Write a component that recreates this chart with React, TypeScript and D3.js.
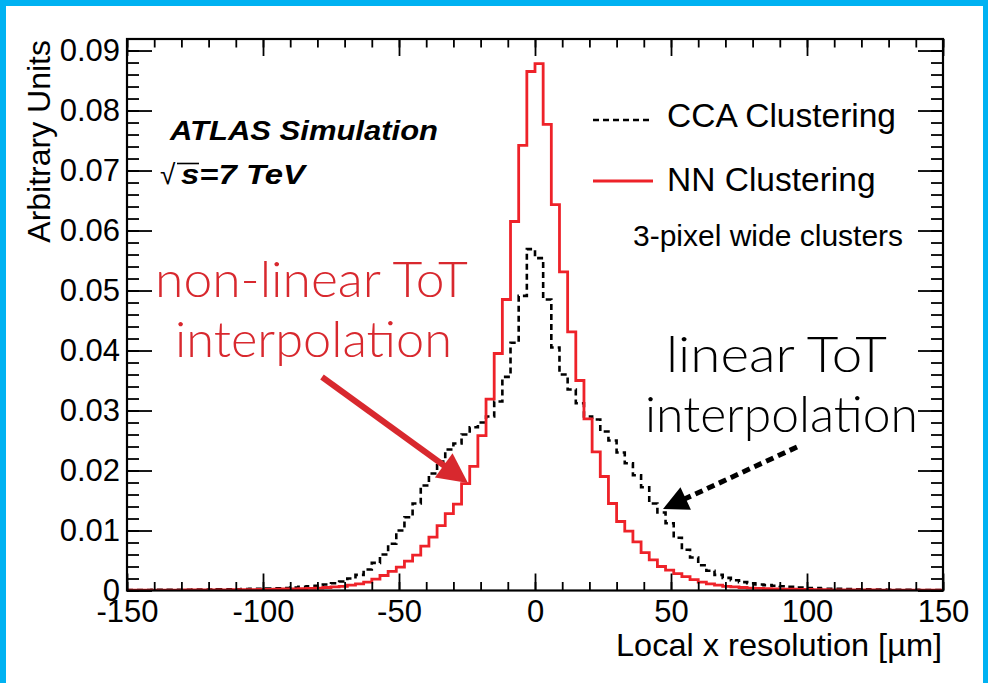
import React, { useRef, useEffect } from "react";
import * as d3 from "d3";

const W = 988;
const H = 683;

// histogram binning: 100 bins of 3 um from -150 to 150
const xMin = -150;
const xMax = 150;
const binWidth = 3;

// NN clustering (red, solid)
const nnValues = [
  0.00005, 0.00005, 0.00005, 0.00006, 0.00006, 0.00007, 0.00007, 0.00008, 0.00009, 0.0001,
  0.0001, 0.00011, 0.00012, 0.00013, 0.00014, 0.00016, 0.00018, 0.0002, 0.00022, 0.00025,
  0.00027, 0.0003, 0.00035, 0.0004, 0.0005, 0.0006, 0.0007, 0.0009, 0.0011, 0.0014,
  0.0019, 0.0025, 0.0032, 0.0039, 0.0049, 0.0059, 0.0074, 0.0089, 0.0108, 0.0128,
  0.0144, 0.0178, 0.0207, 0.0258, 0.0319, 0.0395, 0.0485, 0.0615, 0.0742, 0.0865,
  0.0878, 0.0777, 0.0643, 0.0531, 0.0431, 0.035, 0.0286, 0.0231, 0.019, 0.0145,
  0.0115, 0.0099, 0.0081, 0.0063, 0.0051, 0.004, 0.0034, 0.0028, 0.0023, 0.0018,
  0.0014, 0.0011, 0.0009, 0.0007, 0.0006, 0.0005, 0.0004, 0.00035, 0.0003, 0.00027,
  0.00024, 0.00021, 0.00019, 0.00017, 0.00015, 0.00013, 0.00012, 0.00011, 0.0001, 0.00009,
  0.00008, 0.00008, 0.00007, 0.00007, 0.00006, 0.00006, 0.00005, 0.00005, 0.00005, 0.00004,
];

// CCA clustering (black, dashed)
const ccaValues = [
  0.00008, 0.00008, 0.00009, 0.0001, 0.0001, 0.00011, 0.00012, 0.00013, 0.00014, 0.00015,
  0.00017, 0.00019, 0.0002, 0.00022, 0.00025, 0.00027, 0.0003, 0.00033, 0.00036, 0.0004,
  0.0005, 0.0006, 0.0007, 0.0008, 0.001, 0.0012, 0.0015, 0.002, 0.0026, 0.0035,
  0.0046, 0.006, 0.0078, 0.01, 0.0122, 0.0145, 0.0175, 0.0195, 0.0215, 0.0235,
  0.0245, 0.026, 0.0272, 0.028, 0.029, 0.0315, 0.0356, 0.0413, 0.0491, 0.0569,
  0.0554, 0.0485, 0.0405, 0.036, 0.0335, 0.0312, 0.029, 0.0285, 0.0265, 0.025,
  0.023, 0.0212, 0.0192, 0.0172, 0.0145, 0.013, 0.0112, 0.0088, 0.0068, 0.0055,
  0.0042, 0.0033, 0.0026, 0.0021, 0.0017, 0.0014, 0.0012, 0.001, 0.0009, 0.0008,
  0.0007, 0.0006, 0.0005, 0.0004, 0.0004, 0.0003, 0.0003, 0.00027, 0.00024, 0.00021,
  0.00019, 0.00017, 0.00015, 0.00013, 0.00012, 0.00011, 0.0001, 0.00009, 0.00008, 0.00008,
];

const xTicks = [-150, -100, -50, 0, 50, 100, 150];
const xTickLabels = ["-150", "-100", "-50", "0", "50", "100", "150"];
const yTicks = [0, 0.01, 0.02, 0.03, 0.04, 0.05, 0.06, 0.07, 0.08, 0.09];
const yTickLabels = ["0", "0.01", "0.02", "0.03", "0.04", "0.05", "0.06", "0.07", "0.08", "0.09"];

const RED = "#ee2229";
const ANNOT_RED = "#d8282e";
const FONT = "'Liberation Sans', Arial, Helvetica, sans-serif";
const LIGHT_FONT = "Lato, 'Open Sans', 'Liberation Sans', sans-serif";

const App = () => {
  const svgRef = useRef<SVGSVGElement>(null);

  useEffect(() => {
    const svg = d3.select(svgRef.current);
    svg.selectAll("*").remove();
    svg.attr("width", W).attr("height", H).style("font-family", FONT);

    svg.append("rect").attr("width", W).attr("height", H).attr("fill", "#fff");
    // cyan slide border
    const cyan = "#00b2f2";
    svg.append("rect").attr("x", 0).attr("y", 0).attr("width", W).attr("height", 6).attr("fill", cyan);
    svg.append("rect").attr("x", 0).attr("y", 0).attr("width", 6).attr("height", H).attr("fill", cyan);
    svg.append("rect").attr("x", W - 5).attr("y", 0).attr("width", 5).attr("height", H).attr("fill", cyan);

    const x = d3.scaleLinear().domain([xMin, xMax]).range([127, 943]);
    const y = d3.scaleLinear().domain([0, 0.09192]).range([590.5, 39]);
    const [x0, x1] = x.range();
    const [y0, y1] = y.range();

    svg.append("clipPath").attr("id", "plotClip")
      .append("rect").attr("x", x0).attr("y", y1).attr("width", x1 - x0).attr("height", y0 - y1);

    const stepLine = (vals: number[]) => {
      const pts: [number, number][] = vals.map((v, i) => [xMin + i * binWidth, v]);
      pts.push([xMax, vals[vals.length - 1]]);
      return d3.line<[number, number]>()
        .x((d) => x(d[0]))
        .y((d) => y(d[1]))
        .curve(d3.curveStepAfter)(pts);
    };

    const plot = svg.append("g").attr("clip-path", "url(#plotClip)");
    plot.append("path").attr("d", stepLine(ccaValues)).attr("fill", "none")
      .attr("stroke", "#000").attr("stroke-width", 2.6).attr("stroke-dasharray", "6,4");
    plot.append("path").attr("d", stepLine(nnValues)).attr("fill", "none")
      .attr("stroke", RED).attr("stroke-width", 2.8);

    // axes, ROOT style: ticks inside on all four sides
    const xMinor = d3.range(xMin, xMax + 1, 10);
    const yMinor = d3.range(0, 0.0915, 0.002);

    const styleAxis = (g: any) => {
      g.select(".domain").remove();
      g.selectAll("line").attr("stroke", "#000").attr("stroke-width", 1.8);
      g.selectAll("text").attr("fill", "#000").style("font-size", "31px").style("font-family", FONT);
    };

    svg.append("g").attr("transform", `translate(0,${y0})`)
      .call(d3.axisBottom(x).tickValues(xMinor).tickSizeInner(-8.5).tickSizeOuter(0).tickFormat(() => ""))
      .call(styleAxis);
    svg.append("g").attr("transform", `translate(0,${y0})`)
      .call(d3.axisBottom(x).tickValues(xTicks).tickSizeInner(-17).tickSizeOuter(0).tickPadding(9)
        .tickFormat((_d: any, i: number) => xTickLabels[i]))
      .call(styleAxis);
    svg.append("g").attr("transform", `translate(0,${y1})`)
      .call(d3.axisTop(x).tickValues(xMinor).tickSizeInner(-8.5).tickSizeOuter(0).tickFormat(() => ""))
      .call(styleAxis);
    svg.append("g").attr("transform", `translate(0,${y1})`)
      .call(d3.axisTop(x).tickValues(xTicks).tickSizeInner(-17).tickSizeOuter(0).tickFormat(() => ""))
      .call(styleAxis);

    svg.append("g").attr("transform", `translate(${x0},0)`)
      .call(d3.axisLeft(y).tickValues(yMinor).tickSizeInner(-12).tickSizeOuter(0).tickFormat(() => ""))
      .call(styleAxis);
    svg.append("g").attr("transform", `translate(${x0},0)`)
      .call(d3.axisLeft(y).tickValues(yTicks).tickSizeInner(-25).tickSizeOuter(0).tickPadding(7)
        .tickFormat((_d: any, i: number) => yTickLabels[i]))
      .call(styleAxis);
    svg.append("g").attr("transform", `translate(${x1},0)`)
      .call(d3.axisRight(y).tickValues(yMinor).tickSizeInner(-12).tickSizeOuter(0).tickFormat(() => ""))
      .call(styleAxis);
    svg.append("g").attr("transform", `translate(${x1},0)`)
      .call(d3.axisRight(y).tickValues(yTicks).tickSizeInner(-25).tickSizeOuter(0).tickFormat(() => ""))
      .call(styleAxis);

    svg.append("rect").attr("x", x0).attr("y", y1).attr("width", x1 - x0).attr("height", y0 - y1)
      .attr("fill", "none").attr("stroke", "#000").attr("stroke-width", 2.2);

    // axis titles
    svg.append("text").attr("x", 942).attr("y", 656).attr("text-anchor", "end")
      .attr("textLength", 326).attr("lengthAdjust", "spacingAndGlyphs")
      .style("font-size", "32px").text("Local x resolution [\u00b5m]");
    svg.append("text").attr("transform", "translate(50,40) rotate(-90)").attr("text-anchor", "end")
      .style("font-size", "32px").text("Arbitrary Units");

    // ATLAS label
    svg.append("text").attr("x", 170).attr("y", 140)
      .attr("textLength", 268).attr("lengthAdjust", "spacingAndGlyphs")
      .style("font-size", "27px").style("font-weight", "bold").style("font-style", "italic")
      .text("ATLAS Simulation");
    svg.append("text").attr("x", 160).attr("y", 184).style("font-size", "28px").text("\u221a");
    svg.append("line").attr("x1", 177).attr("x2", 199).attr("y1", 163.5).attr("y2", 163.5)
      .attr("stroke", "#000").attr("stroke-width", 1.6);
    svg.append("text").attr("x", 181).attr("y", 184)
      .attr("textLength", 124).attr("lengthAdjust", "spacingAndGlyphs")
      .style("font-size", "27px").style("font-weight", "bold").style("font-style", "italic")
      .text("s=7 TeV");

    // legend
    svg.append("line").attr("x1", 593).attr("x2", 653).attr("y1", 120).attr("y2", 120)
      .attr("stroke", "#000").attr("stroke-width", 2.6).attr("stroke-dasharray", "6,4");
    svg.append("text").attr("x", 667).attr("y", 127).style("font-size", "33.5px").text("CCA Clustering");
    svg.append("line").attr("x1", 593).attr("x2", 653).attr("y1", 181).attr("y2", 181)
      .attr("stroke", RED).attr("stroke-width", 2.8);
    svg.append("text").attr("x", 667).attr("y", 191).style("font-size", "33.5px").text("NN Clustering");
    svg.append("text").attr("x", 633).attr("y", 246).style("font-size", "30px").text("3-pixel wide clusters");

    // annotations
    const annot = (txt: string, cx: number, by: number, len: number, color: string) =>
      svg.append("text").attr("x", cx - len / 2).attr("y", by)
        .attr("textLength", len).attr("lengthAdjust", "spacingAndGlyphs")
        .style("font-family", LIGHT_FONT).style("font-weight", 300)
        .style("font-size", "49px").attr("fill", color).text(txt);
    annot("non-linear ToT", 311.5, 297, 313, ANNOT_RED);
    annot("interpolation", 313.5, 357, 277, ANNOT_RED);
    annot("linear ToT", 776.5, 372, 221, "#000");
    annot("interpolation", 781.5, 432, 273, "#000");

    const arrow = (sx: number, sy: number, tx: number, ty: number, color: string,
      width: number, headLen: number, headHalf: number, dash?: string) => {
      const dx = tx - sx, dy = ty - sy;
      const len = Math.hypot(dx, dy);
      const ux = dx / len, uy = dy / len;
      const bx = tx - ux * headLen, by = ty - uy * headLen;
      const shaft = svg.append("line").attr("x1", sx).attr("y1", sy)
        .attr("x2", bx + ux * 2).attr("y2", by + uy * 2)
        .attr("stroke", color).attr("stroke-width", width);
      if (dash) shaft.attr("stroke-dasharray", dash);
      svg.append("polygon")
        .attr("points", [[tx, ty], [bx - uy * headHalf, by + ux * headHalf], [bx + uy * headHalf, by - ux * headHalf]]
          .map((p) => p.join(",")).join(" "))
        .attr("fill", color);
    };
    arrow(322, 377, 468, 483, ANNOT_RED, 6, 30, 15);
    arrow(797, 447, 663, 509, "#000", 5, 25, 12.5, "8,5");
  }, []);

  return (
    <svg ref={svgRef} style={{ position: "absolute", left: 0, top: 0 }} />
  );
};

export default App;
